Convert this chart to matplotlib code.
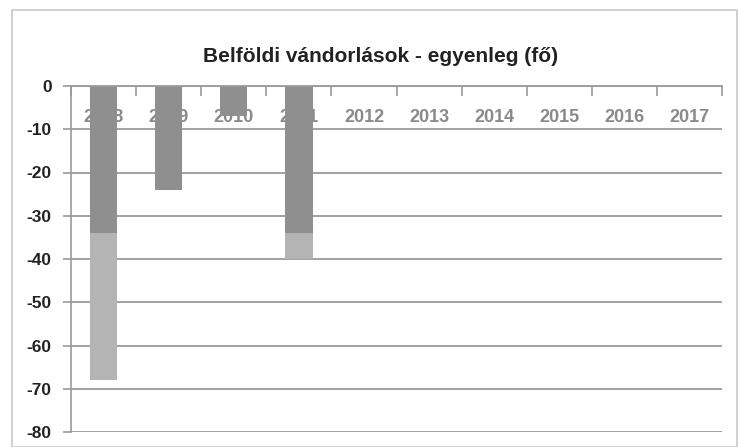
import matplotlib
matplotlib.use("Agg")
import matplotlib.pyplot as plt
from matplotlib.patches import Rectangle

title = "Belföldi vándorlások - egyenleg (fő)"
years = ["2008", "2009", "2010", "2011", "2012", "2013", "2014", "2015", "2016", "2017"]
# net balance (fő); upper (darker) segment and lower (lighter) segment of each bar
dark_part = [-34, -24, -7, -34, 0, 0, 0, 0, 0, 0]
light_part = [-34, 0, 0, -6, 0, 0, 0, 0, 0, 0]
yticks = [0, -10, -20, -30, -40, -50, -60, -70, -80]

plt.rcParams['font.family'] = ['Liberation Sans', 'DejaVu Sans']

fig = plt.figure(figsize=(7.38, 4.47), dpi=100)
fig.patch.set_facecolor("white")
fig.patches.append(Rectangle((12/738, 0), 1 - 12/738 - 0.002, 1 - 10/447,
                             transform=fig.transFigure, fill=False,
                             edgecolor="#c8c8c8", linewidth=1.2))

ax = fig.add_axes([71/738, 1 - 432/447, (722 - 71)/738, (432 - 86)/447])
x = list(range(len(years)))
ax.bar(x, dark_part, width=0.42, color="#8f8f8f", zorder=2)
ax.bar(x, light_part, width=0.42, bottom=dark_part, color="#b4b4b4", zorder=2)

ax.set_xlim(-0.5, len(years) - 0.5)
ax.set_ylim(-80, 0)
ax.set_yticks(yticks)
ax.set_yticklabels([str(v) for v in yticks], fontsize=12.5, fontweight="bold",
                   color="#222222")
ax.tick_params(axis="y", length=6, color="#999999", width=1.2, pad=8)

ax.set_axisbelow(True)
ax.yaxis.grid(True, color="#9a9a9a", linewidth=1.3)

# category labels at top, inside the plot
ax.xaxis.set_ticks_position("top")
ax.set_xticks(x)
ax.set_xticklabels(years, fontsize=13, fontweight="bold", color="#8a8a8a")
ax.tick_params(axis="x", which="major", length=0, pad=-29, labeltop=True,
               labelbottom=False)
ax.set_xticks([i - 0.5 for i in range(len(years) + 1)], minor=True)
ax.tick_params(axis="x", which="minor", direction="in", length=7,
               color="#999999", width=1.2, top=True, bottom=False)

for s in ["right", "bottom"]:
    ax.spines[s].set_visible(False)
ax.spines["left"].set_color("#9a9a9a")
ax.spines["left"].set_linewidth(1.2)
ax.spines["top"].set_color("#9a9a9a")
ax.spines["top"].set_linewidth(1.3)

fig.text(0.516, 1 - 56/447, title, ha="center", va="center",
         fontsize=15, fontweight="bold", color="#222222")

fig.savefig("out.png", dpi=100)
